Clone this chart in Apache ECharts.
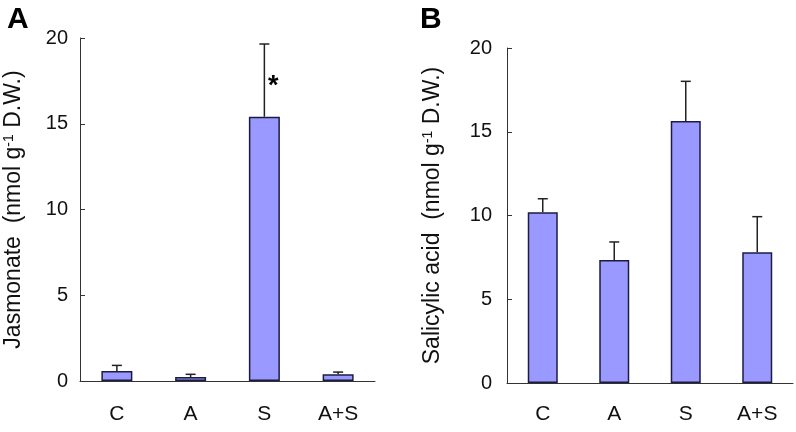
<!DOCTYPE html>
<html>
<head>
<meta charset="utf-8">
<script src="https://cdn.jsdelivr.net/npm/echarts@6/dist/echarts.min.js"></script>
<style>
html,body{margin:0;padding:0;background:#fff;}
#chart{width:796px;height:432px;}
</style>
</head>
<body>
<div id="chart"></div>
<script>
// ---- data ----
var categories = ['C', 'A', 'S', 'A+S'];
var jasmonate = [0.58, 0.23, 15.41, 0.39];
var jasmonateErr = [0.33, 0.16, 4.24, 0.13];
var jasmonateSig = ['', '', '*', ''];
var salicylic = [10.19, 7.34, 15.64, 7.80];
var salicylicErr = [0.81, 1.08, 2.37, 2.13];
var salicylicSig = ['', '', '', ''];
var yTicksMax = 20;
var yTickStep = 5;

var FONT = '"Liberation Sans", Arial, sans-serif';
var BAR = '#9999ff';
var EDGE = '#1c1c40';
var AXIS = '#333333';

function errData(vals, errs, sig) {
  return vals.map(function (v, i) { return [i, v, v + errs[i], sig[i]]; });
}

function errRender(params, api) {
  var x = api.value(0);
  var lo = api.coord([x, api.value(1)]);
  var hi = api.coord([x, api.value(2)]);
  var mid = api.coord([x, (api.value(1) + api.value(2)) / 2]);
  var cap = 5;
  var children = [
    {type: 'line', shape: {x1: lo[0], y1: lo[1], x2: hi[0], y2: hi[1]}, style: {stroke: '#222', lineWidth: 1.5}},
    {type: 'line', shape: {x1: hi[0] - cap, y1: hi[1], x2: hi[0] + cap, y2: hi[1]}, style: {stroke: '#222', lineWidth: 1.5}}
  ];
  var s = api.value(3);
  if (s) {
    children.push({type: 'text', style: {text: s, x: hi[0] + 9, y: mid[1] + 6, align: 'center', verticalAlign: 'middle', font: 'bold 27px ' + FONT, fill: '#000'}});
  }
  return {type: 'group', children: children};
}

function yAxis(idx, name, gap, margin) {
  return {
    type: 'value', gridIndex: idx, min: 0, max: yTicksMax, interval: yTickStep,
    splitLine: {show: false},
    axisLine: {show: true, lineStyle: {color: AXIS, width: 1}},
    axisTick: {show: true, inside: true, length: 5, lineStyle: {color: AXIS}},
    axisLabel: {fontSize: 20, color: '#111', fontFamily: FONT, margin: margin},
    name: name, nameLocation: 'middle', nameGap: gap, nameRotate: 90,
    nameTextStyle: {
      fontSize: 23, color: '#111', fontFamily: FONT,
      rich: {sup: {fontSize: 14, color: '#111', fontFamily: FONT, verticalAlign: 'top', padding: [0, 0, 10, 0]}}
    }
  };
}

function xAxis(idx, margin) {
  return {
    type: 'category', gridIndex: idx, data: categories, boundaryGap: true,
    axisLine: {show: true, lineStyle: {color: AXIS, width: 1}},
    axisTick: {show: false},
    axisLabel: {fontSize: 21, color: '#111', fontFamily: FONT, margin: margin}
  };
}

var chart = echarts.init(document.getElementById('chart'), null, {renderer: 'canvas'});
chart.setOption({
  animation: false,
  backgroundColor: '#fff',
  title: [
    {text: 'A', left: 2, top: 0, textStyle: {fontSize: 30, fontWeight: 'bold', color: '#000', fontFamily: FONT}},
    {text: 'B', left: 415, top: 0, textStyle: {fontSize: 30, fontWeight: 'bold', color: '#000', fontFamily: FONT}}
  ],
  grid: [
    {left: 80, top: 38, width: 295, height: 343},
    {left: 507, top: 48, width: 286, height: 335}
  ],
  xAxis: [xAxis(0, 23), xAxis(1, 21)],
  yAxis: [
    yAxis(0, 'Jasmonate  (nmol g{sup|-1} D.W.)', 54, 12),
    yAxis(1, 'Salicylic acid  (nmol g{sup|-1} D.W.)', 62, 15)
  ],
  series: [
    {type: 'bar', xAxisIndex: 0, yAxisIndex: 0, data: jasmonate, barWidth: 31,
     itemStyle: {color: BAR, borderColor: EDGE, borderWidth: 1.5}},
    {type: 'custom', xAxisIndex: 0, yAxisIndex: 0, renderItem: errRender,
     data: errData(jasmonate, jasmonateErr, jasmonateSig), z: 3},
    {type: 'bar', xAxisIndex: 1, yAxisIndex: 1, data: salicylic, barWidth: 30,
     itemStyle: {color: BAR, borderColor: EDGE, borderWidth: 1.5}},
    {type: 'custom', xAxisIndex: 1, yAxisIndex: 1, renderItem: errRender,
     data: errData(salicylic, salicylicErr, salicylicSig), z: 3}
  ]
});
</script>
</body>
</html>
